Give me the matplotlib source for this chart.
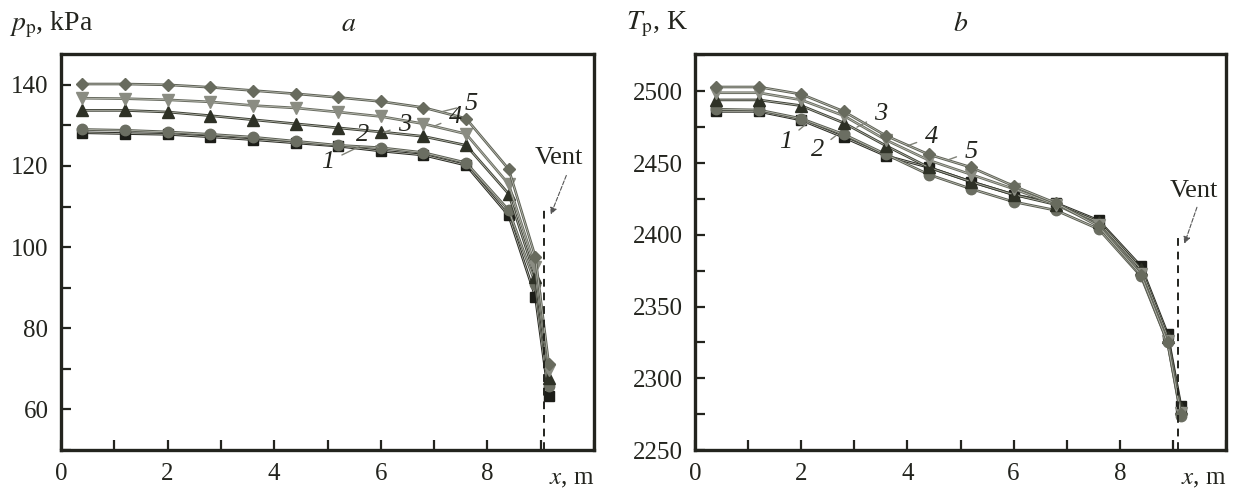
import numpy as np
import matplotlib
matplotlib.use("Agg")
import matplotlib.pyplot as plt
import matplotlib.patheffects as pe
from matplotlib.ticker import MultipleLocator

plt.rcParams['font.family'] = 'Liberation Serif'
plt.rcParams['mathtext.fontset'] = 'stix'

# distance along the channel, m
x = [0.4, 1.2, 2.0, 2.8, 3.6, 4.4, 5.2, 6.0, 6.8, 7.6, 8.4, 8.9, 9.15]

# panel a: pressure, kPa (curves 1..5)
p1 = [128.2, 128.0, 127.8, 127.2, 126.5, 125.7, 124.9, 123.7, 122.7, 120.2, 107.8, 87.8, 63.3]
p2 = [129.0, 128.8, 128.4, 127.8, 127.1, 126.1, 125.1, 124.5, 123.3, 120.8, 109.1, 91.0, 65.7]
p3 = [133.7, 133.7, 133.3, 132.4, 131.4, 130.4, 129.4, 128.4, 127.3, 125.1, 113.1, 92.7, 67.8]
p4 = [136.7, 136.6, 136.3, 135.8, 134.9, 134.3, 133.3, 132.2, 130.4, 127.9, 115.5, 95.1, 69.8]
p5 = [140.2, 140.2, 140.0, 139.4, 138.6, 137.8, 136.9, 135.9, 134.4, 131.7, 119.2, 97.6, 71.3]

# panel b: temperature, K (curves 1..5)
t1 = [2486, 2486, 2480, 2468, 2455, 2447, 2437, 2428, 2422, 2410, 2378, 2331, 2281]
t2 = [2487.5, 2487, 2481, 2470, 2456, 2442, 2432, 2423, 2417, 2404, 2371, 2325, 2274]
t3 = [2494, 2494, 2490, 2478, 2462, 2447, 2437, 2428, 2421, 2409, 2376, 2329, 2279]
t4 = [2499, 2499, 2494, 2483, 2466, 2452, 2442, 2432, 2421, 2407, 2373, 2326, 2276]
t5 = [2503, 2503, 2498, 2486, 2469, 2456, 2447, 2434, 2422, 2406, 2372, 2325, 2275]

curve_labels = ['1', '2', '3', '4', '5']
vent_x = [9.06, 9.1]

styles = [
    dict(marker='s', color='#2a2b24', mfc='#1c1d18', ms=6.5),
    dict(marker='o', color='#5a5d52', mfc='#6b6e62', ms=7.5),
    dict(marker='^', color='#3e4136', mfc='#2e3126', ms=8),
    dict(marker='v', color='#6a6d62', mfc='#8a8c82', ms=8),
    dict(marker='D', color='#5e6156', mfc='#686b5e', ms=6.5),
]

fig = plt.figure(figsize=(12.37, 4.91), dpi=100)
ax_a = fig.add_axes([61 / 1237, 41 / 491, 533 / 1237, 396 / 491])
ax_b = fig.add_axes([695 / 1237, 41 / 491, 531 / 1237, 396 / 491])

ink = '#23241e'
FS = 18
for ax in (ax_a, ax_b):
    for sp in ax.spines.values():
        sp.set_linewidth(2.4)
        sp.set_color(ink)
    ax.set_xlim(0, 10)
    ax.xaxis.set_minor_locator(MultipleLocator(1))
    ax.tick_params(which='both', direction='in', length=7, width=1.6, color=ink,
                   labelsize=FS, labelcolor=ink, top=False, right=False, pad=9)
    ax.set_xticks([0, 2, 4, 6, 8])
    ax.text(1.0, -0.045, '$x$, m', transform=ax.transAxes, ha='right', va='top',
            fontsize=FS, color=ink)


def draw_curve(ax, y, st):
    line, = ax.plot(x, y, lw=1.0, color=st['color'])
    line.set_path_effects([pe.Stroke(linewidth=1.9, foreground=st['color']),
                           pe.Stroke(linewidth=0.5, foreground='#c4c6bc')])
    ax.plot(x, y, ls='none', marker=st['marker'], mfc=st['mfc'], mec=st['mfc'],
            ms=st['ms'])


vent_arrow = dict(arrowstyle='-|>', ls='--', lw=0.8, color='#555', mutation_scale=10)
leader = dict(arrowstyle='-', lw=1.0, color='#808278', shrinkA=4, shrinkB=0)

# panel a
for y, st in zip([p1, p2, p3, p4, p5], styles):
    draw_curve(ax_a, y, st)
ax_a.set_ylim(50, 147.6)
ax_a.yaxis.set_minor_locator(MultipleLocator(10))
ax_a.set_yticks([60, 80, 100, 120, 140])
ax_a.text(-0.098, 1.075, r'$p_{\rm p}$, kPa', transform=ax_a.transAxes,
          fontsize=20, color=ink, va='center')
ax_a.text(0.54, 1.075, '$a$', transform=ax_a.transAxes, fontsize=20,
          color=ink, va='center', ha='center')
ax_a.plot([vent_x[0], vent_x[0]], [50, 110], ls=(0, (4, 3)), lw=1.4, color=ink)
ax_a.text(9.35, 119.3, 'Vent', fontsize=19, color=ink, ha='center', va='bottom')
ax_a.annotate('', xy=(9.17, 107.4), xytext=(9.5, 118.3), arrowprops=vent_arrow)
lab_a = [(5.0, 121.0, 5.6, 124.8), (5.65, 127.6, 5.95, 124.6),
         (6.45, 130.0, 6.05, 128.3), (7.4, 132.0, 7.0, 129.8),
         (7.7, 135.2, 7.15, 133.4)]
for lab, (tx, ty, px, py) in zip(curve_labels, lab_a):
    ax_a.annotate(lab, xy=(px, py), xytext=(tx, ty), fontsize=19, style='italic',
                  color=ink, ha='center', va='center', arrowprops=leader)

# panel b
for y, st in zip([t1, t2, t3, t4, t5], styles):
    draw_curve(ax_b, y, st)
ax_b.set_ylim(2250, 2526)
ax_b.yaxis.set_minor_locator(MultipleLocator(25))
ax_b.set_yticks([2250, 2300, 2350, 2400, 2450, 2500])
ax_b.text(-0.13, 1.075, r'$T_{\rm p}$, K', transform=ax_b.transAxes,
          fontsize=20, color=ink, va='center')
ax_b.text(0.5, 1.075, '$b$', transform=ax_b.transAxes, fontsize=20,
          color=ink, va='center', ha='center')
ax_b.plot([vent_x[1], vent_x[1]], [2250, 2400], ls=(0, (4, 3)), lw=1.4, color=ink)
ax_b.text(9.4, 2423, 'Vent', fontsize=19, color=ink, ha='center', va='bottom')
ax_b.annotate('', xy=(9.2, 2392), xytext=(9.47, 2421), arrowprops=vent_arrow)
lab_b = [(1.7, 2465, 2.15, 2479), (2.3, 2459, 2.65, 2469),
         (3.5, 2484, 3.05, 2475), (4.45, 2468, 4.0, 2462),
         (5.2, 2458, 4.75, 2452)]
for lab, (tx, ty, px, py) in zip(curve_labels, lab_b):
    ax_b.annotate(lab, xy=(px, py), xytext=(tx, ty), fontsize=19, style='italic',
                  color=ink, ha='center', va='center', arrowprops=leader)

fig.savefig('out.png', dpi=100)
